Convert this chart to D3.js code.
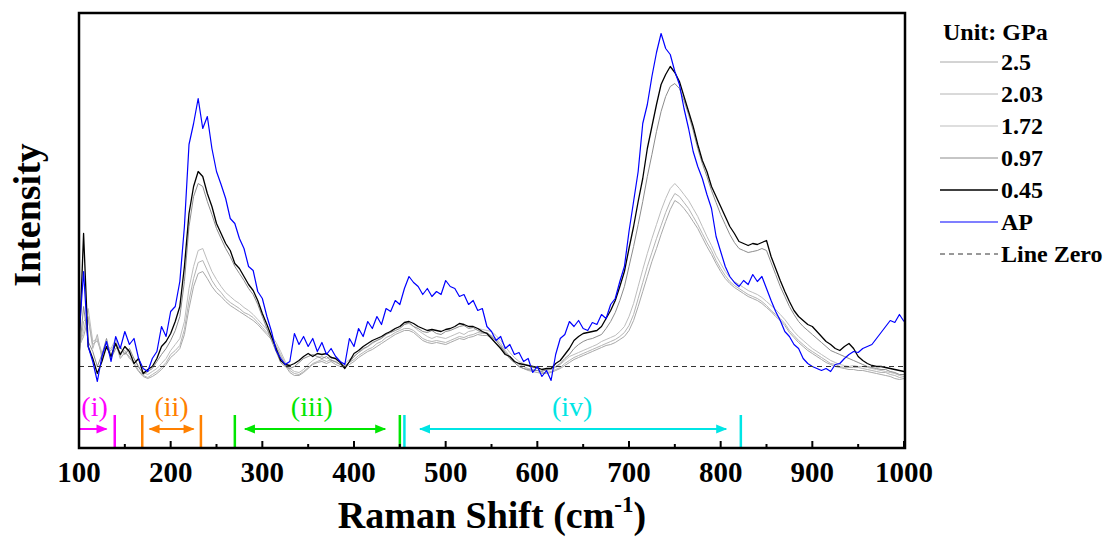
<!DOCTYPE html>
<meta charset="utf-8">
<style>
    body { margin: 0; background: #fff; }
    svg { font-family: "Liberation Serif", "Times New Roman", serif; }
    .frame { fill: none; stroke: #000; stroke-width: 2.5; }
    .spec { fill: none; stroke-linejoin: round; }
    .tick-label { font-size: 29px; font-weight: bold; }
    .legend text { font-size: 24px; font-weight: bold; }
</style>
<svg width="1115" height="537"></svg>
<script src="https://d3js.org/d3.v7.min.js"></script>
<script>

    // Raman shift grid (cm-1), one value every 5 cm-1
    var shift = d3.range(100, 1001, 5);

    var ap = [
        /*100*/ 30, 95, 20, 5, -15, 10, 25, 5, 30, 18,
        /*150*/ 35, 22, 28, 8, -2, -5, 8, 15, 40, 30,
        /*200*/ 55, 60, 85, 140, 222, 243, 268, 238, 250, 218,
        /*250*/ 195, 182, 168, 148, 143, 128, 118, 100, 96, 75,
        /*300*/ 68, 50, 35, 16, 8, 2, 5, 33, 22, 30,
        /*350*/ 20, 28, 15, 24, 12, 18, 10, 5, 2, 28,
        /*400*/ 20, 38, 30, 45, 38, 50, 42, 58, 55, 66,
        /*450*/ 62, 78, 90, 84, 80, 72, 78, 70, 75, 72,
        /*500*/ 86, 80, 78, 70, 72, 62, 66, 56, 58, 40,
        /*550*/ 35, 26, 30, 18, 22, 12, 14, 5, 8, -6,
        /*600*/ 0, -10, -4, -14, 12, 28, 32, 45, 40, 46,
        /*650*/ 38, 36, 44, 42, 52, 48, 62, 68, 85, 100,
        /*700*/ 135, 165, 195, 243, 262, 290, 314, 333, 318, 312,
        /*750*/ 295, 282, 258, 238, 215, 200, 188, 172, 158, 130,
        /*800*/ 115, 100, 90, 84, 80, 86, 82, 92, 85, 90,
        /*850*/ 78, 66, 55, 46, 35, 30, 22, 18, 8, 3,
        /*900*/ 0, -2, -4, -2, -5, 2, 3, 8, 12, 15,
        /*950*/ 14, 18, 20, 22, 28, 34, 40, 46, 44, 52,
        /*1000*/ 45
    ];

    var p045 = [
        /*100*/ 13, 133, 20, 8, -7, 5, 20, 10, 23, 12,
        /*150*/ 20, 15, 3, 8, -7, -3, 0, 8, 20, 25,
        /*200*/ 33, 45, 60, 100, 153, 180, 195, 190, 173, 160,
        /*250*/ 143, 133, 123, 116, 103, 98, 90, 82, 76, 66,
        /*300*/ 53, 42, 30, 18, 6, 2, 1, 3, 6, 10,
        /*350*/ 13, 10, 13, 12, 13, 9, 8, 4, -2, 5,
        /*400*/ 13, 16, 20, 23, 26, 28, 30, 33, 35, 38,
        /*450*/ 40, 44, 45, 43, 40, 38, 36, 37, 36, 35,
        /*500*/ 37, 38, 40, 43, 42, 40, 40, 38, 35, 33,
        /*550*/ 28, 23, 18, 12, 10, 5, 3, 2, 1, 0,
        /*600*/ -1, -3, -2, -2, 3, 6, 12, 18, 26, 30,
        /*650*/ 33, 34, 35, 36, 40, 48, 56, 66, 80, 95,
        /*700*/ 118, 140, 165, 188, 218, 240, 262, 282, 292, 300,
        /*750*/ 294, 285, 270, 255, 240, 222, 206, 195, 180, 170,
        /*800*/ 160, 150, 140, 133, 125, 123, 121, 123, 122, 124,
        /*850*/ 126, 110, 98, 86, 75, 65, 56, 50, 46, 42,
        /*900*/ 40, 35, 30, 25, 22, 18, 16, 20, 23, 18,
        /*950*/ 10, 6, 3, 1, 0, 0, -1, -2, -3, -4,
        /*1000*/ -5
    ];

    var p097 = [
        /*100*/ 10, 60, 25, 15, 0, 12, 28, 8, 18, 20,
        /*150*/ 12, 18, 8, 0, -8, -5, -2, 5, 12, 18,
        /*200*/ 26, 36, 50, 85, 140, 170, 183, 180, 165, 152,
        /*250*/ 138, 128, 118, 110, 100, 93, 86, 78, 72, 62,
        /*300*/ 50, 38, 26, 15, 4, 0, -2, 0, 4, 8,
        /*350*/ 10, 12, 10, 8, 10, 6, 5, 2, 0, 4,
        /*400*/ 10, 14, 18, 20, 24, 26, 28, 32, 34, 36,
        /*450*/ 38, 42, 44, 40, 38, 35, 34, 36, 33, 32,
        /*500*/ 35, 36, 38, 40, 41, 38, 39, 36, 34, 34,
        /*550*/ 30, 26, 20, 14, 8, 4, 0, -2, -3, -4,
        /*600*/ -4, -5, -3, -2, 0, 3, 8, 12, 18, 22,
        /*650*/ 25, 27, 28, 30, 32, 38, 45, 54, 66, 80,
        /*700*/ 100, 120, 142, 165, 190, 212, 235, 255, 270, 280,
        /*750*/ 283, 278, 266, 252, 236, 218, 203, 190, 176, 164,
        /*800*/ 152, 142, 132, 124, 118, 116, 114, 115, 116, 118,
        /*850*/ 116, 104, 92, 80, 70, 60, 52, 45, 40, 36,
        /*900*/ 32, 28, 24, 20, 16, 14, 12, 10, 8, 6,
        /*950*/ 4, 2, 0, -1, -2, -3, -3, -5, -6, -8,
        /*1000*/ -8
    ];

    var p172 = [
        /*100*/ 18, 35, 58, 25, 28, 14, 20, 18, 28, 10,
        /*150*/ 20, 12, 8, -1, -6, -8, -5, -2, 3, 8,
        /*200*/ 16, 22, 28, 45, 78, 100, 116, 118, 106, 95,
        /*250*/ 87, 80, 74, 70, 66, 63, 59, 56, 52, 47,
        /*300*/ 42, 37, 31, 24, 15, 5, -2, -5, -6, -3,
        /*350*/ 2, 6, 9, 10, 8, 10, 7, 4, 3, 7,
        /*400*/ 10, 14, 17, 20, 23, 26, 29, 32, 36, 38,
        /*450*/ 40, 42, 43, 40, 36, 33, 30, 28, 30, 29,
        /*500*/ 28, 30, 32, 34, 32, 35, 36, 38, 37, 36,
        /*550*/ 35, 31, 26, 20, 14, 9, 5, 3, 1, -1,
        /*600*/ -2, -4, -4, -3, -1, 2, 6, 10, 12, 14,
        /*650*/ 16, 18, 20, 22, 25, 27, 29, 31, 35, 40,
        /*700*/ 50, 63, 80, 97, 113, 128, 142, 156, 168, 178,
        /*750*/ 183, 178, 172, 166, 158, 150, 140, 130, 121, 111,
        /*800*/ 103, 95, 89, 85, 82, 79, 76, 74, 72, 69,
        /*850*/ 65, 61, 57, 52, 47, 41, 35, 30, 26, 22,
        /*900*/ 18, 15, 12, 9, 6, 4, 2, 1, 0, 1,
        /*950*/ 0, 0, -1, -2, -3, -4, -5, -6, -7, -9,
        /*1000*/ -8
    ];

    var p203 = [
        /*100*/ 12, 45, 50, 18, 32, 8, 24, 12, 22, 14,
        /*150*/ 16, 8, 4, -4, -9, -11, -8, -5, -1, 4,
        /*200*/ 12, 16, 21, 37, 66, 88, 104, 106, 96, 86,
        /*250*/ 79, 74, 68, 64, 61, 58, 54, 52, 49, 44,
        /*300*/ 39, 34, 29, 21, 12, 3, -4, -7, -8, -5,
        /*350*/ -1, 3, 5, 7, 5, 7, 4, 2, 1, 4,
        /*400*/ 7, 11, 14, 17, 19, 23, 25, 29, 31, 34,
        /*450*/ 36, 38, 38, 36, 32, 28, 26, 25, 26, 25,
        /*500*/ 24, 26, 28, 30, 29, 31, 32, 34, 33, 33,
        /*550*/ 31, 28, 23, 16, 10, 6, 2, 0, -2, -3,
        /*600*/ -4, -6, -6, -5, -3, -1, 3, 6, 9, 11,
        /*650*/ 13, 15, 17, 19, 21, 23, 25, 27, 30, 34,
        /*700*/ 41, 52, 68, 84, 100, 114, 128, 141, 154, 165,
        /*750*/ 173, 170, 164, 158, 150, 142, 133, 124, 116, 106,
        /*800*/ 98, 91, 85, 81, 78, 75, 72, 70, 68, 65,
        /*850*/ 61, 56, 52, 48, 43, 36, 31, 26, 22, 18,
        /*900*/ 15, 12, 9, 6, 3, 2, 0, -1, -1, -1,
        /*950*/ -1, -2, -3, -4, -5, -6, -6, -8, -9, -11,
        /*1000*/ -10
    ];

    var p25 = [
        /*100*/ 20, 30, 48, 22, 26, 12, 18, 16, 24, 8,
        /*150*/ 14, 10, 2, -5, -10, -12, -10, -7, -3, 2,
        /*200*/ 9, 13, 18, 32, 58, 80, 93, 95, 88, 80,
        /*250*/ 74, 70, 65, 61, 58, 55, 52, 49, 46, 42,
        /*300*/ 37, 32, 27, 19, 10, 1, -6, -9, -9, -6,
        /*350*/ -2, 2, 4, 5, 3, 5, 2, 0, -1, 2,
        /*400*/ 5, 9, 12, 15, 17, 20, 23, 26, 29, 32,
        /*450*/ 34, 36, 36, 34, 30, 26, 24, 23, 24, 23,
        /*500*/ 22, 24, 26, 28, 27, 29, 30, 32, 31, 31,
        /*550*/ 29, 26, 21, 14, 8, 4, 0, -2, -4, -5,
        /*600*/ -6, -7, -7, -6, -4, -2, 1, 4, 7, 9,
        /*650*/ 11, 13, 15, 17, 19, 21, 22, 24, 27, 30,
        /*700*/ 36, 46, 60, 75, 90, 105, 118, 132, 145, 157,
        /*750*/ 166, 163, 158, 152, 145, 138, 129, 120, 112, 103,
        /*800*/ 95, 88, 83, 79, 76, 73, 70, 68, 66, 63,
        /*850*/ 59, 55, 50, 46, 41, 34, 29, 24, 20, 16,
        /*900*/ 13, 10, 7, 4, 2, 0, -1, -2, -3, -3,
        /*950*/ -4, -4, -5, -6, -7, -8, -9, -10, -12, -13,
        /*1000*/ -12
    ];

    var pressures = ["2.5", "2.03", "1.72", "0.97", "0.45", "AP"];
    var seriesValues = [p25, p203, p172, p097, p045, ap];
    var seriesColors = ["#a8a8a8", "#b4b4b4", "#bdbdbd", "#8c8c8c", "#000000", "#0000ff"];
    var seriesWidths = [1, 1, 1, 1, 1.3, 1.2];

    var majorTicks = [100, 200, 300, 400, 500, 600, 700, 800, 900, 1000];
    var minorTicks = [150, 250, 350, 450, 550, 650, 750, 850, 950];

    // spectral regions marked under the spectra
    var regionLabels = ["(i)", "(ii)", "(iii)", "(iv)"];
    var regionColors = ["#ff00ff", "#ff8000", "#00e600", "#00e5e5"];
    var regionLines = [[139], [169, 233], [270, 450], [455, 822]];
    var regionArrowFrom = [100, 177, 281, 472];
    var regionArrowTo = [130, 225, 434, 806];
    var regionArrowBoth = [false, true, true, true];
    var regionLabelAt = [117, 201, 354, 638];

    var svg = d3.select("svg"),
        plotLeft = 79, plotRight = 904, plotTop = 13, plotBottom = 448;

    var x = d3.scaleLinear().domain([100, 1000]).range([plotLeft, plotRight]),
        y = d3.scaleLinear().domain([-81.5, 353.5]).range([plotBottom, plotTop]);

    var line = d3.line()
        .x(function(d) { return x(d[0]); })
        .y(function(d) { return y(d[1]); });

    // spectra
    seriesValues.forEach(function(vals, i) {
        var pts = shift.map(function(s, j) { return [s, vals[j]]; });
        svg.append("path")
            .datum(pts)
            .attr("class", "spec")
            .attr("stroke", seriesColors[i])
            .attr("stroke-width", seriesWidths[i])
            .attr("d", line);
    });

    // zero line
    svg.append("path")
        .datum([[100, 0], [1000, 0]])
        .attr("fill", "none")
        .attr("stroke", "#333")
        .attr("stroke-width", 1)
        .attr("stroke-dasharray", "5,4")
        .attr("d", line);

    // region markers
    var reg = svg.append("g");
    regionLabels.forEach(function(lab, i) {
        var c = regionColors[i], ay = 429;
        regionLines[i].forEach(function(v) {
            reg.append("line")
                .attr("x1", x(v)).attr("x2", x(v))
                .attr("y1", 415).attr("y2", plotBottom)
                .attr("stroke", c).attr("stroke-width", 2.5);
        });
        var x0 = x(regionArrowFrom[i]), x1 = x(regionArrowTo[i]);
        reg.append("line")
            .attr("x1", x0).attr("x2", x1)
            .attr("y1", ay).attr("y2", ay)
            .attr("stroke", c).attr("stroke-width", 2);
        reg.append("path")
            .attr("d", "M" + (x1 + 1) + "," + ay + "L" + (x1 - 10) + "," + (ay - 4.5) + "L" + (x1 - 10) + "," + (ay + 4.5) + "Z")
            .attr("fill", c);
        if (regionArrowBoth[i]) {
            reg.append("path")
                .attr("d", "M" + (x0 - 1) + "," + ay + "L" + (x0 + 10) + "," + (ay - 4.5) + "L" + (x0 + 10) + "," + (ay + 4.5) + "Z")
                .attr("fill", c);
        }
        reg.append("text")
            .attr("x", x(regionLabelAt[i]))
            .attr("y", 416)
            .attr("text-anchor", "middle")
            .attr("font-size", 28)
            .attr("fill", c)
            .text(lab);
    });

    // ticks (inward)
    svg.selectAll(".major-tick")
        .data(majorTicks)
        .enter().append("line")
        .attr("class", "major-tick")
        .attr("x1", function(d) { return x(d); })
        .attr("x2", function(d) { return x(d); })
        .attr("y1", plotBottom).attr("y2", plotBottom - 7)
        .attr("stroke", "#000").attr("stroke-width", 2);
    svg.selectAll(".minor-tick")
        .data(minorTicks)
        .enter().append("line")
        .attr("class", "minor-tick")
        .attr("x1", function(d) { return x(d); })
        .attr("x2", function(d) { return x(d); })
        .attr("y1", plotBottom).attr("y2", plotBottom - 4)
        .attr("stroke", "#000").attr("stroke-width", 2);
    svg.selectAll(".tick-label")
        .data(majorTicks)
        .enter().append("text")
        .attr("class", "tick-label")
        .attr("x", function(d) { return x(d); })
        .attr("y", 482)
        .attr("text-anchor", "middle")
        .text(function(d) { return d; });

    // frame
    svg.append("rect")
        .attr("class", "frame")
        .attr("x", plotLeft).attr("y", plotTop)
        .attr("width", plotRight - plotLeft + 1).attr("height", plotBottom - plotTop);

    // axis titles
    var xt = svg.append("text")
        .attr("x", 492).attr("y", 528)
        .attr("text-anchor", "middle")
        .attr("font-size", 38)
        .attr("font-weight", "bold");
    xt.append("tspan").text("Raman Shift (cm");
    xt.append("tspan").attr("font-size", 23).attr("dy", -16).text("-1");
    xt.append("tspan").attr("dy", 16).text(")");

    svg.append("text")
        .attr("transform", "translate(40,215) rotate(-90)")
        .attr("text-anchor", "middle")
        .attr("font-size", 38)
        .attr("font-weight", "bold")
        .text("Intensity");

    // legend
    var lg = svg.append("g").attr("class", "legend");
    lg.append("text")
        .attr("x", 943).attr("y", 40)
        .text("Unit: GPa");
    var legendNames = pressures.concat(["Line Zero"]);
    legendNames.forEach(function(name, i) {
        var by = 70 + i * 32;
        var isZero = i === pressures.length;
        lg.append("line")
            .attr("x1", 940).attr("x2", 998)
            .attr("y1", by - 8).attr("y2", by - 8)
            .attr("stroke", isZero ? "#333" : seriesColors[i])
            .attr("stroke-width", isZero ? 1 : seriesWidths[i])
            .attr("stroke-dasharray", isZero ? "5,4" : null);
        lg.append("text")
            .attr("x", 1001).attr("y", by)
            .text(name);
    });
</script>
